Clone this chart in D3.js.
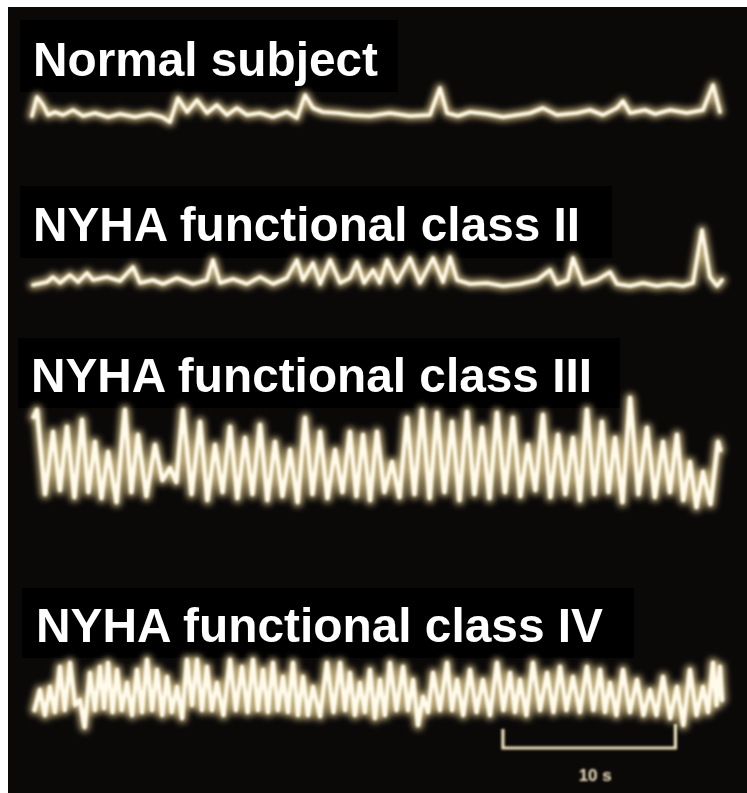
<!DOCTYPE html>
<html><head><meta charset="utf-8">
<script src="https://cdn.jsdelivr.net/npm/d3@7/dist/d3.min.js"></script>
<style>html,body{margin:0;padding:0;background:#fff;}svg{display:block;}</style>
</head><body>
<script>
// ---- data (time in s, amplitude in arbitrary units) ----
const labels = ["Normal subject","NYHA functional class II","NYHA functional class III","NYHA functional class IV"];

const normalT = [0,0.29,0.64,0.93,1.33,1.8,2.38,2.96,3.65,4.41,5.1,5.97,6.84,7.54,8.0,8.46,8.99,9.57,10.14,10.72,11.3,11.88,12.46,13.22,13.97,14.78,15.36,15.83,16.29,16.87,17.74,18.61,19.59,20.75,21.91,23.07,23.65,24.06,24.7,25.39,26.38,27.3,28.12,28.87,29.62,30.43,31.59,32.35,33.1,33.91,34.26,34.67,35.54,36.12,36.99,37.97,38.9,39.48,39.88];
const normalV = [10,29,21,11,14,11,16,10,13,9,12,9,12,9,4,28,14,26,13,21,11,18,11,13,9,14,8,31,18,14,13,11,10,13,10,11,38,13,10,14,12,9,11,13,18,11,13,16,11,18,25,13,16,12,16,13,16,41,14];

const class2T = [0.06,0.87,1.22,1.62,2.2,2.67,3.19,3.54,4.35,5.1,5.86,6.26,7.01,7.59,8.41,9.33,10.14,10.49,10.9,11.65,12.46,13.22,13.97,14.78,15.36,15.71,16.29,16.7,17.28,17.86,18.43,18.84,19.25,19.77,20.17,20.58,21.16,21.91,22.49,23.25,23.83,24.23,24.64,25.39,26.38,27.3,28.29,29.28,30.03,30.43,31.07,31.36,31.94,32.75,33.51,33.91,34.67,35.42,36.23,36.99,37.74,38.32,38.84,39.3,39.71,40];
const class2V = [5,8,13,7,15,8,17,10,13,9,23,7,10,6,12,6,10,30,7,11,6,13,6,12,30,10,27,6,30,7,12,28,7,20,7,30,8,32,7,32,8,33,10,6,7,4,6,10,20,6,10,32,6,10,18,6,4,7,4,6,4,7,60,13,4,10];

const class3T = [0.1,0.29,0.76,1.22,1.62,2.03,2.46,2.9,3.27,3.65,4.03,4.41,4.9,5.39,5.76,6.14,6.63,7.13,7.56,8.0,8.37,8.75,9.25,9.74,10.17,10.61,11.05,11.48,11.91,12.35,12.78,13.22,13.65,14.09,14.52,14.96,15.4,15.83,16.26,16.7,17.13,17.57,18.0,18.43,18.81,19.19,19.6,20.0,20.43,20.87,21.3,21.74,22.17,22.61,23.05,23.48,23.91,24.35,24.78,25.22,25.65,26.09,26.52,26.96,27.42,27.88,28.31,28.75,29.18,29.62,30.05,30.49,30.92,31.36,31.76,32.17,32.6,33.04,33.42,33.8,34.23,34.67,35.16,35.65,36.11,36.58,36.98,37.39,37.76,38.14,38.52,38.9,39.33,39.77,39.9];
const class3V = [95,102,18,80,22,85,15,92,20,70,14,60,10,102,20,77,16,67,32,44,30,102,18,90,12,67,20,85,14,74,18,87,12,70,16,62,10,94,18,80,14,62,20,80,16,77,12,80,20,50,15,94,18,102,14,99,20,90,12,100,18,84,14,99,20,94,16,67,22,97,15,77,18,74,12,102,18,90,20,74,10,114,18,84,15,70,20,77,12,50,5,40,8,70,62];

const class4T = [0.15,0.46,0.75,1.04,1.33,1.62,1.9,2.2,2.5,2.78,3.05,3.36,3.65,3.94,4.18,4.41,4.67,4.93,5.2,5.51,5.8,6.09,6.38,6.67,6.96,7.25,7.55,7.83,8.1,8.41,8.7,8.99,9.28,9.57,9.85,10.14,10.43,10.72,11.1,11.48,11.82,12.17,12.5,12.81,13.1,13.39,13.68,13.97,14.26,14.55,14.84,15.13,15.42,15.71,16.0,16.29,16.7,17.1,17.48,17.86,18.15,18.43,18.72,19.01,19.3,19.59,19.88,20.17,20.46,20.75,21.13,21.51,21.8,22.09,22.38,22.67,22.96,23.25,23.65,24.06,24.35,24.64,25.0,25.39,25.77,26.14,26.55,26.96,27.33,27.71,28.0,28.29,28.66,29.04,29.45,29.86,30.23,30.61,30.98,31.36,31.76,32.17,32.55,32.93,33.22,33.51,33.88,34.26,34.66,35.07,35.45,35.83,36.2,36.58,37.0,37.39,37.76,38.14,38.52,38.9,39.19,39.48,39.68,39.88,40.0];
const class4V = [30,50,25,53,28,73,30,77,35,40,13,67,30,73,32,77,28,70,30,57,25,70,28,80,30,70,25,63,28,53,22,80,35,80,30,73,30,57,25,80,30,73,28,80,30,70,28,77,30,63,28,77,25,63,25,53,24,77,28,77,30,67,25,57,28,70,22,60,25,77,30,73,30,60,15,43,28,67,30,77,30,60,25,70,28,60,25,77,30,67,28,60,25,77,30,67,28,73,30,63,28,73,30,70,28,57,25,70,28,60,25,50,25,63,22,53,15,70,25,53,28,77,35,73,40];

const scaleBarStart = 27.3, scaleBarSeconds = 10, scaleBarLabel = "10 s";

// ---- layout ----
const W = 747, H = 793;
const svg = d3.select("body").append("svg").attr("width", W).attr("height", H);
const defs = svg.append("defs");
const fGlow = defs.append("filter").attr("id","glow").attr("x","-5%").attr("y","-50%").attr("width","110%").attr("height","200%");
fGlow.append("feGaussianBlur").attr("stdDeviation", 3.2);
const fSoft = defs.append("filter").attr("id","soft").attr("x","-5%").attr("y","-50%").attr("width","110%").attr("height","200%");
fSoft.append("feGaussianBlur").attr("stdDeviation", 0.9);

svg.append("rect").attr("width", W).attr("height", H).attr("fill", "#ffffff");
svg.append("rect").attr("x", 8).attr("y", 7).attr("width", W - 8).attr("height", H - 7).attr("fill", "#0b0908");

const x = d3.scaleLinear().domain([0, 40]).range([32, 722]);

const panels = [
  {label: labels[0], t: normalT, v: normalV, dom: [0, 46], rng: [126, 80], box: [20, 20, 378, 72], tx: 33, ty: 76, tw: 345, core: 3.6, halo: 9},
  {label: labels[1], t: class2T, v: class2V, dom: [0, 60], rng: [290, 230], box: [20, 186, 592, 72], tx: 33, ty: 241, tw: 547, core: 3.6, halo: 9},
  {label: labels[2], t: class3T, v: class3V, dom: [0, 114], rng: [512, 398], box: [18, 338, 602, 70], tx: 31, ty: 392, tw: 561, core: 4.4, halo: 10},
  {label: labels[3], t: class4T, v: class4V, dom: [0, 90], rng: [740, 650], box: [22, 588, 612, 70], tx: 36, ty: 642, tw: 567, core: 4.4, halo: 10}
];

panels.forEach(p => {
  svg.append("rect").attr("x", p.box[0]).attr("y", p.box[1]).attr("width", p.box[2]).attr("height", p.box[3]).attr("fill", "#000");
  svg.append("text").attr("x", p.tx).attr("y", p.ty)
    .attr("font-family", "'Liberation Sans', Arial, sans-serif").attr("font-weight", "bold")
    .attr("font-size", 49).attr("fill", "#ffffff")
    .attr("textLength", p.tw).attr("lengthAdjust", "spacingAndGlyphs")
    .text(p.label);
});

panels.forEach(p => {
  const y = d3.scaleLinear().domain(p.dom).range(p.rng);
  const data = p.t.map((t, i) => [t, p.v[i]]);
  const line = d3.line().x(d => x(d[0])).y(d => y(d[1])).curve(d3.curveLinear);
  svg.append("path").attr("d", line(data)).attr("fill", "none")
    .attr("stroke", "#e6cf92").attr("stroke-width", p.halo).attr("stroke-opacity", 0.8)
    .attr("stroke-linejoin", "round").attr("stroke-linecap", "round").attr("filter", "url(#glow)");
  svg.append("path").attr("d", line(data)).attr("fill", "none")
    .attr("stroke", "#fffaea").attr("stroke-width", p.core)
    .attr("stroke-linejoin", "round").attr("stroke-linecap", "round").attr("filter", "url(#soft)");
});

// scale bar
const sb = svg.append("g").attr("filter", "url(#soft)");
const x0 = x(scaleBarStart), x1 = x(scaleBarStart + scaleBarSeconds);
sb.append("path").attr("d", `M${x0},729 L${x0},748 L${x1},748 L${x1},724`)
  .attr("fill", "none").attr("stroke", "#efe2bd").attr("stroke-width", 3.2);
sb.append("text").attr("x", (x0 + x1) / 2 + 6).attr("y", 781).attr("text-anchor", "middle")
  .attr("font-family", "'Liberation Sans', Arial, sans-serif").attr("font-weight", "bold")
  .attr("font-size", 17).attr("fill", "#efe2bd").text(scaleBarLabel);
</script>
</body></html>
